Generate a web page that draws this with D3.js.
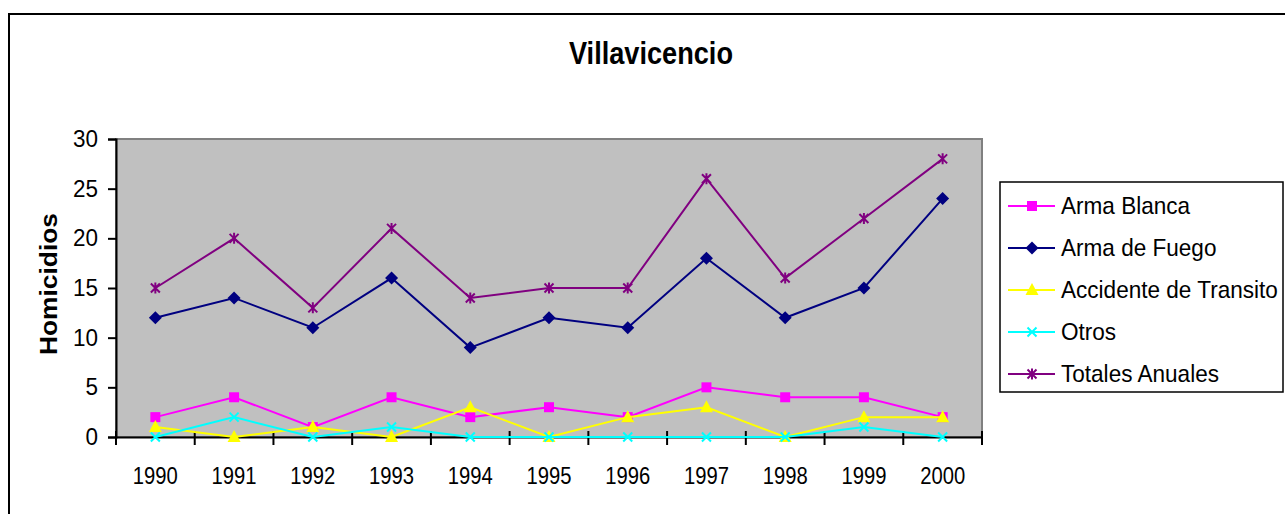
<!DOCTYPE html>
<html>
<head>
<meta charset="utf-8">
<script src="https://cdn.jsdelivr.net/npm/d3@7/dist/d3.min.js"></script>
<style>
  html, body { margin: 0; padding: 0; background: #fff; }
  svg { display: block; }
  text { font-family: "Liberation Sans", Arial, sans-serif; fill: #000; }
</style>
</head>
<body>
<svg id="chart" width="1285" height="514"></svg>
<script>
// ---- Data ----
const years = ["1990","1991","1992","1993","1994","1995","1996","1997","1998","1999","2000"];
const armaBlanca   = [2, 4, 1, 4, 2, 3, 2, 5, 4, 4, 2];
const armaFuego    = [12, 14, 11, 16, 9, 12, 11, 18, 12, 15, 24];
const accidente    = [1, 0, 1, 0, 3, 0, 2, 3, 0, 2, 2];
const otros        = [0, 2, 0, 1, 0, 0, 0, 0, 0, 1, 0];
const totales      = [15, 20, 13, 21, 14, 15, 15, 26, 16, 22, 28];
const yTicks       = [0, 5, 10, 15, 20, 25, 30];
const seriesNames  = ["Arma Blanca", "Arma de Fuego", "Accidente de Transito", "Otros", "Totales Anuales"];
const chartTitle   = "Villavicencio";
const yAxisTitle   = "Homicidios";

const series = [
  { name: seriesNames[0], values: armaBlanca, color: "#FF00FF", marker: "square" },
  { name: seriesNames[1], values: armaFuego,  color: "#000080", marker: "diamond" },
  { name: seriesNames[2], values: accidente,  color: "#FFFF00", marker: "triangle" },
  { name: seriesNames[3], values: otros,      color: "#00FFFF", marker: "x" },
  { name: seriesNames[4], values: totales,    color: "#800080", marker: "asterisk" }
];

const svg = d3.select("#chart");

// outer chart border
svg.append("rect").attr("x", 9).attr("y", 14).attr("width", 1400).attr("height", 600)
  .attr("fill", "#fff").attr("stroke", "#000").attr("stroke-width", 2);

const P = { left: 116, right: 982, top: 139, bottom: 437 };

const x = d3.scaleBand().domain(years).range([P.left, P.right]).paddingInner(0).paddingOuter(0);
const xc = d => x(d) + x.bandwidth() / 2;
const y = d3.scaleLinear().domain([0, 30]).range([P.bottom, P.top]);

// plot area
svg.append("rect").attr("x", P.left).attr("y", P.top)
  .attr("width", P.right - P.left).attr("height", P.bottom - P.top)
  .attr("fill", "#C0C0C0").attr("stroke", "#808080").attr("stroke-width", 2);

// Y axis
const yAxis = d3.axisLeft(y).tickValues(yTicks).tickSize(8).tickPadding(10).tickFormat(d3.format("d"));
const gy = svg.append("g").attr("transform", `translate(${P.left},0)`).call(yAxis);
gy.select(".domain").attr("stroke", "#000").attr("stroke-width", 2);
gy.selectAll(".tick line").attr("stroke", "#000").attr("stroke-width", 2);
gy.selectAll(".tick text").attr("font-size", 23.5).attr("font-family", "Liberation Sans, Arial, sans-serif").attr("fill", "#000")
  .attr("textLength", d => String(d).length * 12.5).attr("lengthAdjust", "spacingAndGlyphs");

// X axis (labels)
const xAxis = d3.axisBottom(x).tickSize(0).tickPadding(30);
const gx = svg.append("g").attr("transform", `translate(0,${P.bottom})`).call(xAxis);
gx.select(".domain").attr("stroke", "#000").attr("stroke-width", 2);
gx.selectAll(".tick text").attr("font-size", 23.5).attr("font-family", "Liberation Sans, Arial, sans-serif").attr("fill", "#000")
  .attr("textLength", 45).attr("lengthAdjust", "spacingAndGlyphs");

// X axis boundary ticks
const bounds = years.map(d => x(d)).concat([P.right]);
svg.append("g").selectAll("line").data(bounds).join("line")
  .attr("x1", d => d).attr("x2", d => d)
  .attr("y1", P.bottom - 6).attr("y2", P.bottom + 8)
  .attr("stroke", "#000").attr("stroke-width", 2);

// marker drawing
function drawMarker(g, type, color) {
  if (type === "square") {
    g.append("rect").attr("x", -5).attr("y", -5).attr("width", 10).attr("height", 10).attr("fill", color);
  } else if (type === "diamond") {
    g.append("path").attr("d", "M0,-6.5L6.5,0L0,6.5L-6.5,0Z").attr("fill", color);
  } else if (type === "triangle") {
    g.append("path").attr("d", "M0,-7L6.5,5L-6.5,5Z").attr("fill", color);
  } else if (type === "x") {
    g.append("path").attr("d", "M-4.5,-4.5L4.5,4.5M-4.5,4.5L4.5,-4.5").attr("stroke", color).attr("stroke-width", 2).attr("fill", "none");
  } else if (type === "asterisk") {
    g.append("path").attr("d", "M-4.5,-4.5L4.5,4.5M-4.5,4.5L4.5,-4.5M0,-5.5L0,5.5").attr("stroke", color).attr("stroke-width", 2).attr("fill", "none");
  }
}

const line = d3.line().x((d, i) => xc(years[i])).y(d => y(d));

series.forEach(s => {
  const g = svg.append("g");
  g.append("path").datum(s.values).attr("d", line)
    .attr("fill", "none").attr("stroke", s.color).attr("stroke-width", 2);
  s.values.forEach((v, i) => {
    const m = g.append("g").attr("transform", `translate(${xc(years[i])},${y(v)})`);
    drawMarker(m, s.marker, s.color);
  });
});

// Title
svg.append("text").attr("x", 651).attr("y", 64).attr("text-anchor", "middle")
  .attr("font-size", 31).attr("font-weight", "bold")
  .attr("textLength", 164).attr("lengthAdjust", "spacingAndGlyphs").text(chartTitle);

// Y axis title
svg.append("text").attr("transform", "translate(57,284) rotate(-90)").attr("text-anchor", "middle")
  .attr("font-size", 24).attr("font-weight", "bold")
  .attr("textLength", 142).attr("lengthAdjust", "spacingAndGlyphs").text(yAxisTitle);

// Legend
const L = { x: 1000, y: 182, w: 283, h: 210 };
svg.append("rect").attr("x", L.x).attr("y", L.y).attr("width", L.w).attr("height", L.h)
  .attr("fill", "#fff").attr("stroke", "#000").attr("stroke-width", 1.5);
const lg = svg.append("g").selectAll("g").data(series).join("g")
  .attr("transform", (d, i) => `translate(${L.x},${206 + i * 42})`);
lg.append("line").attr("x1", 8).attr("x2", 55).attr("y1", 0).attr("y2", 0)
  .attr("stroke", d => d.color).attr("stroke-width", 2);
lg.each(function(d) {
  const m = d3.select(this).append("g").attr("transform", "translate(32,0)");
  drawMarker(m, d.marker, d.color);
});
lg.append("text").attr("x", 0).attr("y", 0)
  .attr("transform", "translate(61,8) scale(0.94,1)")
  .attr("font-size", 24).text(d => d.name);
</script>
</body>
</html>
